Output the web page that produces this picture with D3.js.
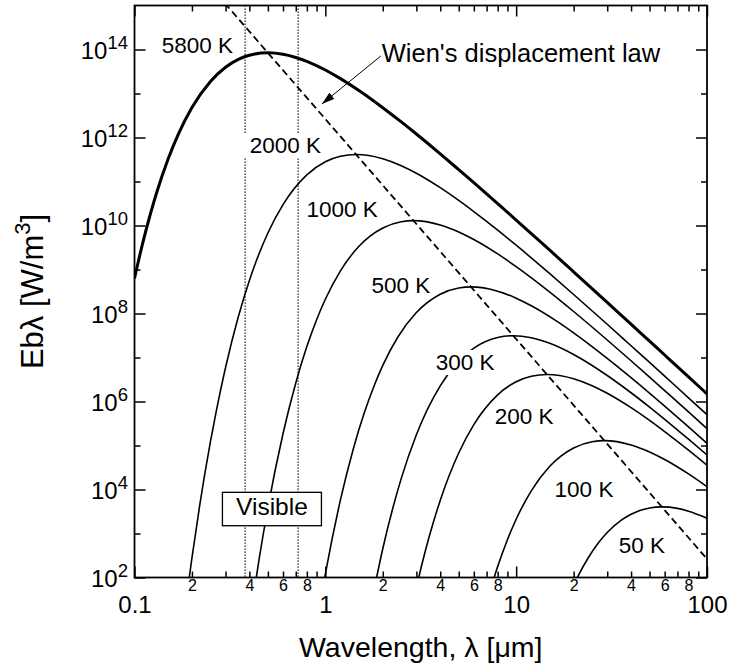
<!DOCTYPE html>
<html>
<head>
<meta charset="utf-8">
<script src="https://cdn.jsdelivr.net/npm/d3@7"></script>
<style>
body{margin:0;background:#fff}
text{font-family:"Liberation Sans",Arial,Helvetica,sans-serif;fill:#000}
</style>
</head>
<body>
<script>
// blackbody curves: [wavelength um, Eb W/m3]
var bb5800 = [[0.1,6.31e8],[0.11,3.73e9],[0.12,1.58e10],[0.13,5.2e10],[0.15,3.24e11],[0.17,1.21e12],
	[0.2,4.8e12],[0.25,1.88e13],[0.3,3.95e13],[0.35,5.96e13],[0.4,7.41e13],[0.5,8.45e13],[0.6,7.82e13],
	[0.8,5.38e13],[1,3.42e13],[1.2,2.18e13],[1.5,1.17e13],[2,4.76e12],[2.5,2.26e12],[3,1.2e12],
	[4,4.26e11],[5,1.86e11],[6,9.4e10],[8,3.14e10],[10,1.33e10],[15,2.74e9],[20,8.85e8],[30,1.79e8],
	[40,5.71e7],[50,2.36e7],[60,1.14e7],[80,3.62e6],[100,1.49e6]];
var bb2000 = [[0.19,54.3],[0.2,280],[0.22,4.57e3],[0.25,1.22e5],[0.27,7.0e5],[0.3,5.93e6],[0.35,8.43e7],
	[0.4,5.65e8],[0.5,6.76e9],[0.6,2.99e10],[0.8,1.42e11],[1,2.81e11],[1.2,3.76e11],[1.45,4.12e11],
	[2,3.3e11],[2.5,2.29e11],[3,1.54e11],[4,7.24e10],[5,3.72e10],[6,2.07e10],[8,7.83e9],[10,3.56e9],
	[15,8.02e8],[20,2.7e8],[30,5.69e7],[40,1.85e7],[50,7.74e6],[60,3.78e6],[80,1.21e6],[100,5.01e5]];
var bb1000 = [[0.42,37.9],[0.45,264],[0.5,3.81e3],[0.6,1.85e5],[0.7,2.64e6],[0.8,1.77e7],[0.9,7.23e7],
	[1,2.11e8],[1.2,9.33e8],[1.5,3.37e9],[2,8.79e9],[2.5,1.22e10],[2.9,1.29e10],[4,1.03e10],[5,7.14e9],
	[6,4.81e9],[8,2.26e9],[10,1.16e9],[15,3.06e8],[20,1.11e8],[30,2.5e7],[40,8.43e6],[50,3.59e6],
	[60,1.77e6],[80,5.79e5],[100,2.42e5]];
var bb500 = [[0.95,33.9],[1,119],[1.2,5.79e3],[1.4,8.24e4],[1.6,5.52e5],[1.8,2.26e6],[2,6.61e6],
	[2.4,2.92e7],[3,1.05e8],[4,2.75e8],[5,3.8e8],[5.8,4.02e8],[8,3.22e8],[10,2.23e8],[12,1.5e8],
	[16,7.08e7],[20,3.64e7],[30,9.57e6],[40,3.48e6],[60,7.82e5],[80,2.64e5],[100,1.12e5]];
var bb300 = [[1.8,53.1],[2,451],[2.5,1.79e4],[3,1.76e5],[4,2.27e6],[5,8.18e6],[6,1.63e7],[8,2.85e7],
	[9.66,3.13e7],[12,2.82e7],[15,2.1e7],[20,1.17e7],[30,3.9e6],[40,1.58e6],[50,7.45e5],[60,3.94e5],
	[80,1.39e5],[100,6.08e4]];
var bb200 = [[3,59.3],[3.2,192],[3.5,843],[4,5.65e3],[5,6.76e4],[6,2.99e5],[8,1.42e6],[10,2.81e6],
	[12,3.76e6],[14.5,4.12e6],[20,3.3e6],[25,2.29e6],[30,1.54e6],[40,7.24e5],[50,3.72e5],[60,2.07e5],
	[80,7.83e4],[100,3.56e4]];
var bb100 = [[7.5,73.5],[8,177],[9,723],[10,2.11e3],[12,9.33e3],[15,3.37e4],[20,8.79e4],[25,1.22e5],
	[29,1.29e5],[40,1.03e5],[50,7.14e4],[60,4.81e4],[80,2.26e4],[100,1.16e4]];
var bb50 = [[20,66.1],[21,103],[24,292],[27,614],[30,1.05e3],[36,2.09e3],[40,2.75e3],[50,3.8e3],
	[58,4.02e3],[70,3.72e3],[80,3.22e3],[100,2.23e3]];
var wien = [[0.25,2.69e15],[100,264]];          // lambda_max * T = 2898 um K
var visible = [0.38, 0.72];                      // band edges, um

var curveNames = ["5800 K","2000 K","1000 K","500 K","300 K","200 K","100 K","50 K"];
var curveData = [bb5800, bb2000, bb1000, bb500, bb300, bb200, bb100, bb50];

var xMajor = [0.1, 1, 10, 100];
var xMajorText = ["0.1", "1", "10", "100"];
var xMinor = [0.2,0.3,0.4,0.5,0.6,0.7,0.8,0.9, 2,3,4,5,6,7,8,9, 20,30,40,50,60,70,80,90];
var yMajor = [1e2,1e4,1e6,1e8,1e10,1e12,1e14];
var yMinor = [1e3,1e5,1e7,1e9,1e11,1e13];

// layout
var W = 729, H = 665;
var L = 134.5, R = 707, T = 5.5, B = 577.5;

var x = d3.scaleLog().domain([0.1, 100]).range([L, R]);
var y = d3.scaleLog().domain([1e2, 1e15]).range([B, T]);

var svg = d3.select("body").append("svg")
	.attr("width", W).attr("height", H)
	.style("display", "block");

var defs = svg.append("defs");
defs.append("clipPath").attr("id", "plot")
	.append("rect").attr("x", L).attr("y", T).attr("width", R - L).attr("height", B - T);
defs.append("marker")
	.attr("id", "head").attr("viewBox", "0 -4 13 8")
	.attr("refX", 13).attr("refY", 0)
	.attr("markerWidth", 13).attr("markerHeight", 8)
	.attr("markerUnits", "userSpaceOnUse").attr("orient", "auto")
	.append("path").attr("d", "M0,-4L13,0L0,4Z").attr("fill", "#000");

var g = svg.append("g").attr("clip-path", "url(#plot)");

// visible band
g.selectAll("line.vis").data(visible).enter().append("line")
	.attr("class", "vis")
	.attr("x1", function(d){ return x(d); }).attr("x2", function(d){ return x(d); })
	.attr("y1", T).attr("y2", B)
	.attr("stroke", "#000").attr("stroke-width", 1.3)
	.attr("stroke-dasharray", "1.3,1.7");

var line = d3.line()
	.x(function(d){ return x(d[0]); })
	.y(function(d){ return y(d[1]); })
	.curve(d3.curveMonotoneX);

g.selectAll("path.bb").data(curveData).enter().append("path")
	.attr("class", "bb")
	.attr("d", line)
	.attr("fill", "none").attr("stroke", "#000")
	.attr("stroke-width", function(d, i){ return i == 0 ? 3 : 1.6; })
	.attr("stroke-linejoin", "round");

g.append("path").datum(wien)
	.attr("d", d3.line().x(function(d){ return x(d[0]); }).y(function(d){ return y(d[1]); }))
	.attr("fill", "none").attr("stroke", "#000").attr("stroke-width", 1.8)
	.attr("stroke-dasharray", "7,4");

// curve labels, each on a white patch (positions in data units)
var labelAt = [[0.139,8.3e13],[0.402,4.4e11],[0.797,1.58e10],[1.746,2.88e8],
	[3.79,5.2e6],[7.72,3.08e5],[15.9,6.85e3],[34.5,366]];
var lab = svg.append("g");
curveNames.forEach(function(name, i)
{
	var t = lab.append("text")
		.attr("x", x(labelAt[i][0])).attr("y", y(labelAt[i][1]))
		.attr("font-size", 22.5).text(name);
	var bb = t.node().getBBox();
	var pad = i == 1 ? 6 : 1;
	lab.insert("rect", function(){ return t.node(); })
		.attr("x", bb.x - pad).attr("y", bb.y).attr("width", bb.width + 2 * pad).attr("height", bb.height)
		.attr("fill", "#fff");
});

// Wien annotation
svg.append("line")
	.attr("x1", x(1.953)).attr("y1", y(7.11e13))
	.attr("x2", x(0.959)).attr("y2", y(5.77e12))
	.attr("stroke", "#000").attr("stroke-width", 1)
	.attr("marker-end", "url(#head)");
svg.append("text")
	.attr("x", x(1.976)).attr("y", y(5.2e13))
	.attr("font-size", 25.5).text("Wien's displacement law");

// Visible box
var vx = x(0.525), vy = y(3.6e3);
svg.append("rect")
	.attr("x", vx - 49.5).attr("y", vy - 16.7).attr("width", 99).attr("height", 33.4)
	.attr("fill", "#fff").attr("stroke", "#000").attr("stroke-width", 1.3);
svg.append("text").attr("x", vx).attr("y", vy + 6)
	.attr("text-anchor", "middle").attr("font-size", 24.5).text("Visible");

// axes
function clean(sel, fs)
{
	sel.select(".domain").remove();
	sel.selectAll(".tick line").attr("stroke-width", 1.5);
	sel.attr("font-size", fs);
}
var minorLabel = function(d)
{
	var m = Math.round(d / Math.pow(10, Math.floor(Math.log10(d) + 1e-9)));
	return m % 2 == 0 ? m : "";
};

svg.append("g").attr("transform", "translate(0," + B + ")")
	.call(d3.axisBottom(x).tickValues(xMinor).tickSize(-6).tickPadding(2.5).tickFormat(minorLabel))
	.call(clean, 16);
svg.append("g").attr("transform", "translate(0," + B + ")")
	.call(d3.axisBottom(x).tickValues(xMajor).tickSize(-11).tickPadding(18)
		.tickFormat(function(d, i){ return xMajorText[i]; }))
	.call(clean, 24);
svg.append("g").attr("transform", "translate(0," + T + ")")
	.call(d3.axisTop(x).tickValues(xMinor).tickSize(-6).tickFormat(""))
	.call(clean, 10);
svg.append("g").attr("transform", "translate(0," + T + ")")
	.call(d3.axisTop(x).tickValues(xMajor).tickSize(-11).tickFormat(""))
	.call(clean, 10);

[[d3.axisLeft, L], [d3.axisRight, R]].forEach(function(a)
{
	svg.append("g").attr("transform", "translate(" + a[1] + ",0)")
		.call(a[0](y).tickValues(yMajor).tickSize(-11).tickFormat(""))
		.call(clean, 10);
	svg.append("g").attr("transform", "translate(" + a[1] + ",0)")
		.call(a[0](y).tickValues(yMinor).tickSize(-6).tickFormat(""))
		.call(clean, 10);
});

var yl = svg.append("g").selectAll("text").data(yMajor).enter().append("text")
	.attr("x", L - 6.5).attr("y", function(d){ return y(d) + 9; })
	.attr("text-anchor", "end").attr("font-size", 24);
yl.append("tspan").text("10");
yl.append("tspan").attr("dy", -9.5).attr("font-size", 18.5)
	.text(function(d){ return Math.round(Math.log10(d)); });

// frame
svg.append("rect")
	.attr("x", L).attr("y", T).attr("width", R - L).attr("height", B - T)
	.attr("fill", "none").attr("stroke", "#000").attr("stroke-width", 1.8);

// axis titles
svg.append("text")
	.attr("x", (L + R) / 2).attr("y", 657)
	.attr("text-anchor", "middle").attr("font-size", 28.5)
	.text("Wavelength, \u03bb [\u03bcm]");

var yt = svg.append("text")
	.attr("transform", "translate(43," + ((T + B) / 2) + ") rotate(-90)")
	.attr("text-anchor", "middle").attr("font-size", 31);
yt.append("tspan").text("Eb\u03bb [W/m");
yt.append("tspan").attr("dy", -13).attr("font-size", 22).text("3");
yt.append("tspan").attr("dy", 13).text("]");
</script>
</body>
</html>
